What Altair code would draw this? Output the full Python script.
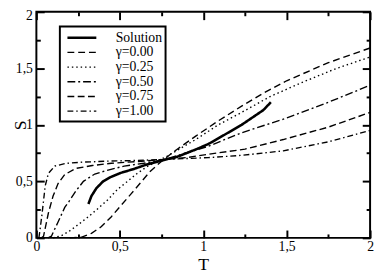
import altair as alt
import pandas as pd

SERIES = ["Solution", "γ=0.00", "γ=0.25", "γ=0.50", "γ=0.75", "γ=1.00"]
DASHES = [[1, 0], [7, 4], [1.5, 3], [8, 3, 2, 3], [7, 3.5], [6, 3, 1.5, 3]]
WIDTHS = [2.6, 1.4, 1.4, 1.4, 1.4, 1.4]

sol_T = [0.312, 0.33, 0.36, 0.40, 0.448, 0.506, 0.585, 0.663, 0.74, 0.79, 0.84, 0.90, 0.96, 1.03, 1.09, 1.16, 1.23, 1.30, 1.36, 1.405]
sol_S = [0.30, 0.37, 0.44, 0.50, 0.54, 0.575, 0.61, 0.65, 0.68, 0.70, 0.715, 0.75, 0.785, 0.83, 0.88, 0.94, 1.00, 1.07, 1.13, 1.20]

g00_T = [0.20, 0.272, 0.33, 0.39, 0.448, 0.506, 0.565, 0.623, 0.68, 0.74, 0.80, 0.84, 0.955, 1.09, 1.23, 1.36, 1.50, 1.75, 2.0]
g00_S = [0.0, 0.006, 0.04, 0.10, 0.185, 0.285, 0.385, 0.485, 0.585, 0.665, 0.735, 0.78, 0.90, 1.035, 1.165, 1.28, 1.39, 1.55, 1.68]

g25_T = [0.10, 0.15, 0.195, 0.253, 0.31, 0.37, 0.43, 0.487, 0.546, 0.604, 0.663, 0.72, 0.78, 0.838, 0.955, 1.09, 1.23, 1.40, 1.60, 1.80, 2.0]
g25_S = [0.0, 0.02, 0.057, 0.12, 0.185, 0.26, 0.34, 0.43, 0.50, 0.57, 0.63, 0.675, 0.72, 0.77, 0.87, 1.00, 1.11, 1.25, 1.38, 1.50, 1.60]

g50_T = [0.07, 0.09, 0.13, 0.17, 0.195, 0.234, 0.282, 0.35, 0.43, 0.526, 0.643, 0.78, 0.838, 1.03, 1.23, 1.48, 1.75, 2.0]
g50_S = [0.0, 0.015, 0.14, 0.27, 0.32, 0.41, 0.50, 0.565, 0.60, 0.635, 0.66, 0.695, 0.725, 0.81, 0.93, 1.05, 1.20, 1.35]

g75_T = [0.03, 0.043, 0.072, 0.10, 0.13, 0.17, 0.237, 0.335, 0.45, 0.60, 0.78, 0.90, 1.03, 1.25, 1.48, 1.75, 2.0]
g75_S = [0.0, 0.015, 0.22, 0.37, 0.48, 0.56, 0.615, 0.64, 0.66, 0.675, 0.695, 0.71, 0.74, 0.785, 0.87, 0.98, 1.11]

g100_T = [0.015, 0.02, 0.033, 0.053, 0.072, 0.11, 0.18, 0.277, 0.45, 0.60, 0.78, 1.03, 1.23, 1.48, 1.75, 2.0]
g100_S = [0.0, 0.05, 0.20, 0.46, 0.57, 0.635, 0.66, 0.67, 0.68, 0.685, 0.695, 0.71, 0.73, 0.77, 0.85, 0.95]

MAJOR = [0, 0.5, 1, 1.5, 2]
MINOR = [0.25, 0.75, 1.25, 1.75]

curves = [
    ("γ=0.00", g00_T, g00_S),
    ("γ=0.25", g25_T, g25_S),
    ("γ=0.50", g50_T, g50_S),
    ("γ=0.75", g75_T, g75_S),
    ("γ=1.00", g100_T, g100_S),
    ("Solution", sol_T, sol_S),
]
rows = []
for name, ts, ss in curves:
    for i, (t, s) in enumerate(zip(ts, ss)):
        rows.append({"series": name, "T": t, "S": s, "i": i})
df = pd.DataFrame(rows)
anchor = pd.DataFrame({"T": [0, 2], "S": [0, 2]})

W, H = 341, 231
FONT = "Liberation Serif"
xs = alt.Scale(domain=[0, 2], nice=False, zero=False)
ys = alt.Scale(domain=[0, 2], nice=False, zero=False)
LBL = "replace(datum.label, '.', ',')"

LEG = dict(
    title=None, orient="none", legendX=24, legendY=15,
    symbolType="M-2.2,0H2.2", symbolSize=180, symbolOffset=11,
    symbolStrokeColor="black", labelOffset=26, rowPadding=0, padding=3,
    labelFont=FONT, labelFontSize=14, labelColor="black",
    labelExpr="datum.label + ' '", strokeColor="black",
)

lines = alt.Chart(df).mark_line(color="black").encode(
    x=alt.X("T:Q", scale=xs, axis=alt.Axis(
        orient="bottom", values=MAJOR, format="~g", labelExpr=LBL, ticks=False,
        domain=False, grid=False, title="T", labelPadding=2, labelFlush=False,
        labelOverlap=False, titleY=32.5, titleBaseline="alphabetic", titleFontSize=18,
        labelFont=FONT, titleFont=FONT)),
    y=alt.Y("S:Q", scale=ys, axis=alt.Axis(
        orient="left", values=MAJOR, format="~g", labelExpr=LBL, ticks=False,
        domain=False, grid=False, title="S", labelPadding=4, labelFlush=False,
        labelOverlap=False, titleX=-11.5, titleY=H / 2, titleBaseline="alphabetic",
        titleAngle=270, titleFontSize=18, labelFont=FONT, titleFont=FONT,
        labelOffset={"condition": {"test": "datum.value === 2", "value": 3.5}, "value": 0})),
    strokeDash=alt.StrokeDash("series:N", scale=alt.Scale(domain=SERIES, range=DASHES),
                              legend=alt.Legend(**LEG)),
    strokeWidth=alt.StrokeWidth("series:N", scale=alt.Scale(type="ordinal", domain=SERIES, range=WIDTHS),
                                legend=alt.Legend(**LEG)),
    order="i:Q",
)


def tick_layer(values, size, x_orient, y_orient):
    return alt.Chart(anchor).mark_point(opacity=0, size=1).encode(
        x=alt.X("T:Q", scale=xs, axis=alt.Axis(
            orient=x_orient, offset=-H, values=values, tickSize=size, tickWidth=2,
            tickColor="black", labels=False, domain=False, grid=False, title=None)),
        y=alt.Y("S:Q", scale=ys, axis=alt.Axis(
            orient=y_orient, offset=-W, values=values, tickSize=size, tickWidth=2,
            tickColor="black", labels=False, domain=False, grid=False, title=None)),
    )


chart = alt.layer(
    lines,
    tick_layer(MAJOR, 8, "top", "right"),
    tick_layer(MINOR, 4, "top", "right"),
    tick_layer(MAJOR, 8, "bottom", "left"),
    tick_layer(MINOR, 4, "bottom", "left"),
).resolve_axis(x="independent", y="independent").properties(
    width=W, height=H,
    autosize=alt.AutoSizeParams(type="none"),
    padding={"left": 29, "top": 1, "right": 4, "bottom": 33},
).configure_view(stroke="black", strokeWidth=2).configure_axis(
    labelFont=FONT, titleFont=FONT, labelFontSize=14, titleFontSize=19,
    titleFontWeight="normal", labelColor="black", titleColor="black",
).configure_legend(strokeWidth=2)

chart.save("out.html", embed_options={"renderer": "svg", "actions": False})
